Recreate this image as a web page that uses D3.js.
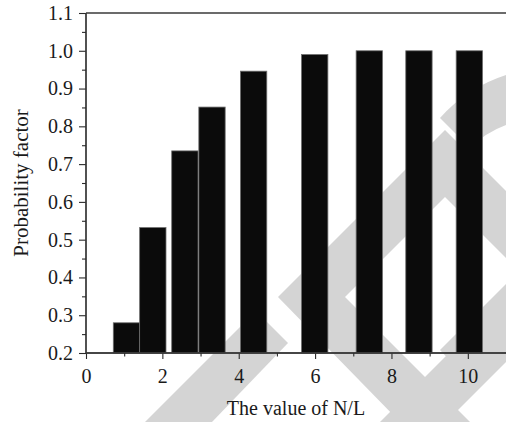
<!DOCTYPE html>
<html>
<head>
<meta charset="utf-8">
<script src="https://cdn.jsdelivr.net/npm/d3@7"></script>
<style>
  html, body { margin: 0; padding: 0; background: #fff; }
  svg text { font-family: "Liberation Serif", "DejaVu Serif", serif; fill: #1a1a1a; }
</style>
</head>
<body>
<div id="container"></div>
<script>
const WIDTH = 506;
const HEIGHT = 422;
const MARGIN = { top: 13, right: 0, bottom: 69, left: 86 };
const INNER_WIDTH = WIDTH - MARGIN.left - MARGIN.right;
const INNER_HEIGHT = HEIGHT - MARGIN.top - MARGIN.bottom;
const FONT = '"Liberation Serif", "DejaVu Serif", serif';

// Data
const nlValues = [1.06, 1.75, 2.59, 3.3, 4.39, 5.99, 7.42, 8.72, 10.04];
const probability = [0.28, 0.532, 0.735, 0.851, 0.946, 0.99, 1.0, 1.0, 1.0];
const barWidthUnits = 0.69;
const xTicks = [0, 2, 4, 6, 8, 10];
const xMinorTicks = [1, 3, 5, 7, 9];
const yTicks = [0.2, 0.3, 0.4, 0.5, 0.6, 0.7, 0.8, 0.9, 1.0, 1.1];
const yMinorTicks = [0.25, 0.35, 0.45, 0.55, 0.65, 0.75, 0.85, 0.95, 1.05];
const xLabel = 'The value of N/L';
const yLabel = 'Probability factor';

const root = d3.select('#container').append('svg')
    .attr('width', WIDTH)
    .attr('height', HEIGHT);

// Watermark bands (light grey) behind the plot
const mark = root.append('g').attr('fill', '#d4d4d4').attr('stroke', 'none');
const bands = [
  [[145, 422], [256, 311], [288, 343], [212, 422]],
  [[278, 297], [445, 130], [506, 191], [506, 258], [445, 197], [345, 297], [470, 422], [400, 422]],
  [[440, 350], [506, 284], [506, 350], [472, 384]],
  [[380, 422], [506, 296], [506, 362], [446, 422]]
];
bands.forEach(function (p) {
  mark.append('polygon').attr('points', p.map(function (d) { return d.join(','); }).join(' '));
});
mark.append('path')
    .attr('d', 'M506,75 A150,150 0 0 0 440,118 L470,148 A100,100 0 0 1 506,125 Z');

const svg = root.append('g')
    .attr('transform', 'translate(' + MARGIN.left + ',' + MARGIN.top + ')');

// Scales and axes
const x = d3.scaleLinear().domain([0, 11]).range([0, INNER_WIDTH]);
const y = d3.scaleLinear().domain([0.2, 1.1]).range([INNER_HEIGHT, 0]);
const bw = x(barWidthUnits) - x(0);

// Bars
svg.append('g').selectAll('rect')
    .data(nlValues)
    .join('rect')
    .attr('x', function (d) { return x(d) - bw / 2; })
    .attr('y', function (d, i) { return y(probability[i]); })
    .attr('width', bw)
    .attr('height', function (d, i) { return y(0.2) - y(probability[i]); })
    .attr('fill', '#0b0b0b')
    .attr('stroke', '#6e6e6e')
    .attr('stroke-width', 0.8);

const xAxis = d3.axisBottom(x).tickValues(xTicks).tickFormat(d3.format('d')).tickSize(6).tickPadding(10);
const xMinor = d3.axisBottom(x).tickValues(xMinorTicks).tickFormat('').tickSize(3.5);
const yAxis = d3.axisLeft(y).tickValues(yTicks).tickFormat(d3.format('.1f')).tickSize(7).tickPadding(6);
const yMinor = d3.axisLeft(y).tickValues(yMinorTicks).tickFormat('').tickSize(4);

function styleAxis(g) {
  g.attr('font-family', FONT);
  g.selectAll('.domain').attr('stroke', '#3a3a3a').attr('stroke-width', 1.3);
  g.selectAll('.tick line').attr('stroke', '#2a2a2a').attr('stroke-width', 1.1);
  g.selectAll('.tick text').attr('font-size', 20).attr('font-family', FONT).attr('fill', '#1a1a1a');
}

svg.append('g')
    .attr('class', 'x axis')
    .attr('transform', 'translate(0,' + INNER_HEIGHT + ')')
    .call(xAxis).call(styleAxis);
svg.append('g')
    .attr('class', 'x minor')
    .attr('transform', 'translate(0,' + INNER_HEIGHT + ')')
    .call(xMinor).call(styleAxis);
svg.append('g')
    .attr('class', 'y axis')
    .call(yAxis).call(styleAxis);
svg.append('g')
    .attr('class', 'y minor')
    .call(yMinor).call(styleAxis);
// top frame line
svg.append('line')
    .attr('x1', 0).attr('x2', INNER_WIDTH)
    .attr('y1', 0).attr('y2', 0)
    .attr('stroke', '#3a3a3a').attr('stroke-width', 1.3);
svg.selectAll('.domain').attr('d', function () {
  return d3.select(this.parentNode).classed('x') ? 'M0,0H' + INNER_WIDTH : 'M0,0V' + INNER_HEIGHT;
});

// Axis titles
svg.append('text')
    .attr('x', INNER_WIDTH / 2)
    .attr('y', INNER_HEIGHT + 62)
    .attr('text-anchor', 'middle')
    .attr('font-family', FONT)
    .attr('font-size', 20)
    .text(xLabel);
svg.append('text')
    .attr('transform', 'translate(' + (-58) + ',' + (INNER_HEIGHT / 2) + ') rotate(-90)')
    .attr('text-anchor', 'middle')
    .attr('font-family', FONT)
    .attr('font-size', 21)
    .text(yLabel);
</script>
</body>
</html>
